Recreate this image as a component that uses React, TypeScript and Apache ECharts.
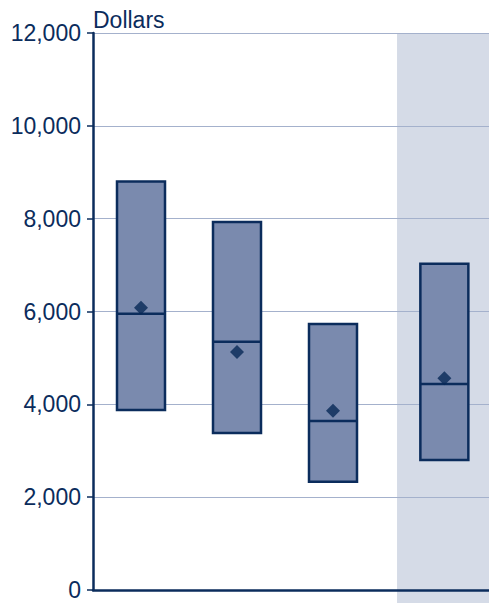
import React, { useEffect, useRef } from "react";
import * as echarts from "echarts";

// Data
const categories = ["Group A", "Group B", "Group C", "Group D"];
const xPositions = [1, 2, 3, 4.16];
const lowValues = [3880, 3380, 2330, 2800];
const medianValues = [5950, 5350, 3640, 4440];
const highValues = [8800, 7930, 5730, 7030];
const meanValues = [6080, 5130, 3860, 4560];
const yTicks = [0, 2000, 4000, 6000, 8000, 10000, 12000];
const shadeRange = [3.667, 4.625];
const xRange = [0.5, 4.625];

const NAVY = "#0b2c5c";
const BOX_FILL = "#7a8aae";
const GRID = "#a4b1cc";
const SHADE = "#d5dbe7";
const FONT = "'Liberation Sans', Arial, Helvetica, sans-serif";

export default function App() {
  const ref = useRef<HTMLDivElement>(null);
  useEffect(() => {
    document.body.style.margin = "0";
    const chart = echarts.init(ref.current!, null, { renderer: "svg" });
    const boxWidth = 0.5;
    const yMax = yTicks[yTicks.length - 1];
    chart.setOption({
      animation: false,
      grid: { left: 93, right: 0, top: 33, bottom: 13, containLabel: false },
      xAxis: {
        type: "value",
        min: xRange[0],
        max: xRange[1],
        axisLine: { show: true, onZero: false, lineStyle: { color: NAVY, width: 2.5 } },
        axisTick: { show: false },
        axisLabel: { show: false },
        splitLine: { show: false },
      },
      yAxis: {
        type: "value",
        min: yTicks[0],
        max: yMax,
        interval: 2000,
        name: "Dollars",
        nameLocation: "end",
        nameGap: 2,
        nameTextStyle: { color: NAVY, fontSize: 23, fontFamily: FONT, align: "left", padding: [0, 0, 0, 0] },
        axisLine: { show: true, lineStyle: { color: NAVY, width: 2.5 } },
        axisTick: { show: true, length: 6, lineStyle: { color: NAVY, width: 1.5 } },
        axisLabel: {
          color: NAVY,
          fontSize: 23,
          fontFamily: FONT,
          margin: 12,
          formatter: (v: number) => v.toLocaleString("en-US"),
        },
        splitLine: { show: true, lineStyle: { color: GRID, width: 1 } },
      },
      series: [
        {
          type: "custom",
          name: "shade",
          z: -1,
          silent: true,
          clip: false,
          data: [[shadeRange[0], shadeRange[1]]],
          encode: { x: [0, 1] },
          renderItem: (params: any, api: any) => {
            const p0 = api.coord([api.value(0), yMax]);
            const p1 = api.coord([api.value(1), 0]);
            return {
              type: "rect",
              shape: { x: p0[0], y: p0[1], width: p1[0] - p0[0], height: api.getHeight() - p0[1] },
              style: { fill: SHADE },
            };
          },
        },
        {
          type: "custom",
          name: "boxes",
          z: 2,
          data: categories.map((c, i) => [xPositions[i], lowValues[i], medianValues[i], highValues[i]]),
          encode: { x: 0, y: [1, 2, 3] },
          renderItem: (params: any, api: any) => {
            const x = api.value(0);
            const pLow = api.coord([x, api.value(1)]);
            const pMed = api.coord([x, api.value(2)]);
            const pHigh = api.coord([x, api.value(3)]);
            const w = api.size([boxWidth, 0])[0];
            return {
              type: "group",
              children: [
                {
                  type: "rect",
                  shape: { x: pHigh[0] - w / 2, y: pHigh[1], width: w, height: pLow[1] - pHigh[1] },
                  style: { fill: BOX_FILL, stroke: NAVY, lineWidth: 2.5 },
                },
                {
                  type: "line",
                  shape: { x1: pMed[0] - w / 2, y1: pMed[1], x2: pMed[0] + w / 2, y2: pMed[1] },
                  style: { stroke: NAVY, lineWidth: 2.5 },
                },
              ],
            };
          },
        },
        {
          type: "scatter",
          name: "mean",
          z: 3,
          symbol: "diamond",
          symbolSize: [14, 14],
          itemStyle: { color: "#082856" },
          data: categories.map((c, i) => [xPositions[i], meanValues[i]]),
        },
      ],
    });
    return () => chart.dispose();
  }, []);
  return <div ref={ref} style={{ width: 489, height: 603, position: "absolute", left: 0, top: 0 }} />;
}
